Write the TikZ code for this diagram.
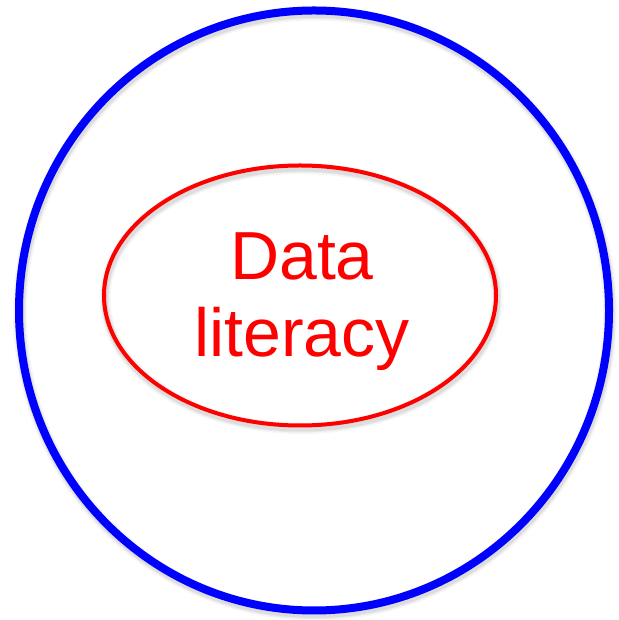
\documentclass[tikz,border=0pt]{standalone}
\usepackage{fontspec}
\setmainfont{Liberation Sans}
\begin{document}
\begin{tikzpicture}[x=1pt,y=1pt,
  outerring/.style={draw=blue,line width=8pt},
  innerring/.style={draw=red,line width=4pt},
  ringshadow/.style={draw=black!60,opacity=0.18},
  label/.style={text=red,font=\fontsize{68}{80}\selectfont,inner sep=0pt,anchor=base}]
\useasboundingbox (0,0) rectangle (618,620);
% shadows
\foreach \w/\o in {14/0.06,11/0.08,9/0.10}{
  \draw[ringshadow,line width=\w pt,opacity=\o] (315,306.5) ellipse [x radius=295, y radius=300];
  \draw[ringshadow,line width=\w pt-3pt,opacity=\o] (301,321.5) ellipse [x radius=196, y radius=130];
}
\draw[outerring] (314,309.5) ellipse [x radius=295, y radius=300];
\draw[innerring] (300,324.5) ellipse [x radius=196, y radius=130];
\node[label] (l1) at (302,340) {Data};
\node[label] (l2) at (302,263) {literacy};
\end{tikzpicture}
\end{document}
